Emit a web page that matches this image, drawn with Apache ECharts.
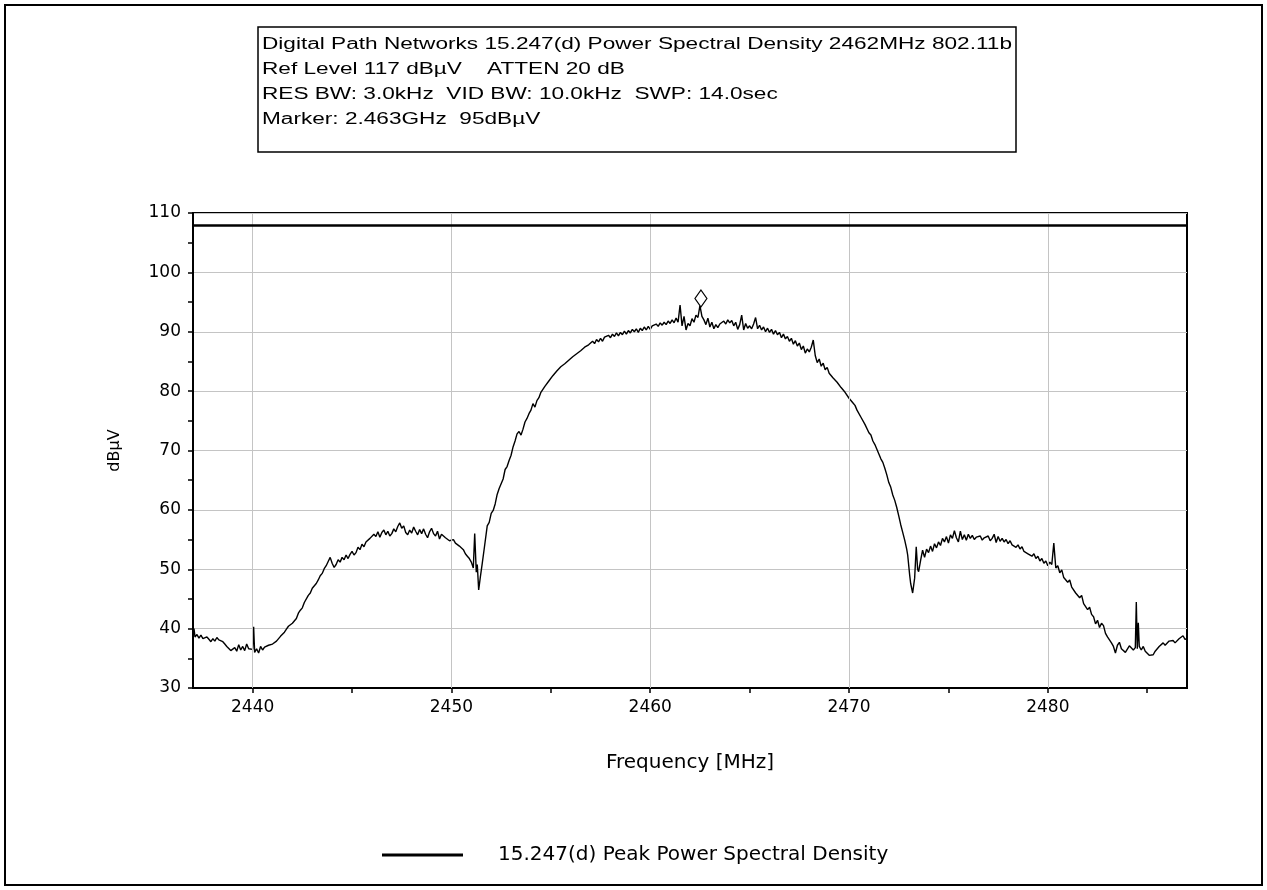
<!DOCTYPE html>
<html><head><meta charset="utf-8">
<script src="https://cdn.jsdelivr.net/npm/echarts@6/dist/echarts.min.js"></script>
<style>html,body{margin:0;padding:0;background:#fff}#c{width:1267px;height:890px}</style>
</head><body><div id="c"></div>
<script>
const titleLines = [
  'Digital Path Networks 15.247(d) Power Spectral Density 2462MHz 802.11b',
  'Ref Level 117 dB\u00b5V    ATTEN 20 dB',
  'RES BW: 3.0kHz  VID BW: 10.0kHz  SWP: 14.0sec',
  'Marker: 2.463GHz  95dB\u00b5V'
];
const seriesName = '15.247(d) Peak Power Spectral Density';
const xAxisName = 'Frequency [MHz]';
const yAxisName = 'dB\u00b5V';
const xTickLabels = [2440, 2450, 2460, 2470, 2480];
const xTickMarks = [2440, 2445, 2450, 2455, 2460, 2465, 2470, 2475, 2480, 2485];
const limitLevel = 108;
const markerFreq = 2462.55;
const markerLevel = 95.6;

// [frequency MHz, level dBuV]
const spectrumPoints = [
[2437.0,39.2],[2437.05,40.0],[2437.1,38.6],[2437.2,39.0],[2437.3,38.4],[2437.4,38.9],[2437.5,38.3],[2437.6,38.0],[2437.7,38.6],[2437.8,38.2],
[2437.9,37.8],[2438.0,38.3],[2438.1,37.9],[2438.2,38.5],[2438.3,38.1],[2438.4,38.4],[2438.5,37.8],[2438.6,37.4],[2438.7,37.0],[2438.8,36.8],
[2438.9,36.3],[2439.0,36.0],[2439.1,36.8],[2439.2,36.2],[2439.3,37.3],[2439.4,36.4],[2439.5,37.0],[2439.6,36.3],[2439.7,37.4],[2439.8,36.6],
[2439.9,36.9],[2440.0,36.5],[2440.05,40.3],[2440.1,36.0],[2440.2,36.6],[2440.3,35.9],[2440.4,37.0],[2440.5,36.4],[2440.6,36.9],[2440.7,36.6],
[2440.8,37.2],[2440.9,36.9],[2441.0,37.4],[2441.1,37.3],[2441.2,37.9],[2441.3,38.2],[2441.4,38.7],[2441.5,38.6],[2441.6,39.4],[2441.7,39.9],
[2441.8,40.4],[2441.9,40.2],[2442.0,40.9],[2442.1,41.2],[2442.2,41.7],[2442.3,42.6],[2442.4,43.1],[2442.5,43.5],[2442.6,44.4],[2442.7,44.7],
[2442.8,45.6],[2442.9,46.0],[2443.0,46.8],[2443.1,46.6],[2443.2,47.6],[2443.3,48.2],[2443.4,48.9],[2443.5,49.3],[2443.6,50.1],[2443.7,50.6],
[2443.8,51.3],[2443.9,52.0],[2444.0,51.0],[2444.1,50.3],[2444.2,50.8],[2444.3,51.6],[2444.4,51.2],[2444.5,52.0],[2444.6,51.6],[2444.7,52.4],
[2444.8,51.8],[2444.9,52.5],[2445.0,53.0],[2445.1,52.4],[2445.2,52.8],[2445.3,53.7],[2445.4,53.3],[2445.5,54.2],[2445.6,53.8],[2445.7,54.6],
[2445.8,54.4],[2445.9,55.2],[2446.0,55.0],[2446.1,55.9],[2446.2,55.5],[2446.3,56.3],[2446.4,55.4],[2446.5,56.2],[2446.6,56.6],[2446.7,55.8],
[2446.8,56.4],[2446.9,55.6],[2447.0,56.0],[2447.1,56.8],[2447.2,56.3],[2447.3,57.2],[2447.4,57.8],[2447.5,56.9],[2447.6,57.3],[2447.7,56.2],
[2447.8,55.8],[2447.9,56.6],[2448.0,56.1],[2448.1,57.1],[2448.2,56.4],[2448.3,55.8],[2448.4,56.7],[2448.5,56.0],[2448.6,56.8],[2448.7,55.9],
[2448.8,55.3],[2448.9,56.3],[2449.0,56.9],[2449.1,56.0],[2449.2,55.6],[2449.3,56.4],[2449.4,55.1],[2449.5,55.9],[2449.6,56.2],[2449.7,55.3],
[2449.8,55.6],[2449.9,54.8],[2450.0,54.6],[2450.1,55.0],[2450.2,54.4],[2450.3,54.7],[2450.4,53.9],[2450.5,53.6],[2450.6,53.3],[2450.7,52.6],
[2450.8,52.2],[2450.9,51.8],[2451.0,51.2],[2451.1,50.2],[2451.17,56.0],[2451.25,49.5],[2451.3,50.8],[2451.37,46.5],[2451.45,48.6],[2451.55,51.0],
[2451.65,53.5],[2451.8,57.3],[2451.9,57.9],[2452.0,59.4],[2452.1,59.9],[2452.2,61.0],[2452.3,62.6],[2452.4,63.6],[2452.5,63.9],[2452.6,65.2],
[2452.7,66.8],[2452.8,67.3],[2452.9,68.3],[2453.0,69.2],[2453.1,70.6],[2453.2,71.6],[2453.3,72.8],[2453.4,73.2],[2453.5,72.6],[2453.6,73.6],
[2453.7,74.8],[2453.8,75.4],[2453.9,76.2],[2454.0,76.8],[2454.1,77.9],[2454.2,77.3],[2454.3,78.4],[2454.4,78.9],[2454.5,79.8],[2454.6,80.0],
[2454.7,80.8],[2454.8,81.0],[2454.9,81.7],[2455.0,81.8],[2455.1,82.6],[2455.2,82.8],[2455.3,83.4],[2455.4,83.3],[2455.5,84.1],[2455.6,83.9],
[2455.7,84.6],[2455.8,84.5],[2455.9,85.2],[2456.0,85.1],[2456.1,85.8],[2456.2,85.6],[2456.3,86.3],[2456.4,86.1],[2456.5,86.8],[2456.6,86.6],
[2456.7,87.4],[2456.8,87.2],[2456.9,87.8],[2457.0,87.9],[2457.1,88.4],[2457.2,88.0],[2457.3,88.7],[2457.4,88.3],[2457.5,88.9],[2457.6,88.4],
[2457.7,89.1],[2457.8,88.8],[2457.9,89.4],[2458.0,89.0],[2458.1,89.6],[2458.2,89.2],[2458.3,89.8],[2458.4,89.3],[2458.5,89.9],[2458.6,89.5],
[2458.7,90.1],[2458.8,89.6],[2458.9,90.2],[2459.0,89.8],[2459.1,90.4],[2459.2,90.0],[2459.3,90.5],[2459.4,89.9],[2459.5,90.6],[2459.6,90.2],
[2459.7,90.8],[2459.8,90.3],[2459.9,90.9],[2460.0,90.4],[2460.1,91.0],[2460.2,90.7],[2460.3,91.3],[2460.4,90.9],[2460.5,91.5],[2460.6,91.1],
[2460.7,91.6],[2460.8,91.2],[2460.9,91.8],[2461.0,91.4],[2461.1,92.0],[2461.2,91.5],[2461.3,92.3],[2461.4,91.6],[2461.5,94.5],[2461.6,91.0],
[2461.7,92.6],[2461.8,90.3],[2461.9,91.4],[2462.0,91.0],[2462.1,92.2],[2462.2,91.6],[2462.3,92.8],[2462.4,92.4],[2462.5,94.4],[2462.6,92.6],
[2462.7,92.0],[2462.8,91.2],[2462.9,92.3],[2463.0,90.8],[2463.1,91.6],[2463.2,90.5],[2463.3,91.2],[2463.4,90.7],[2463.5,91.3],[2463.6,91.0],
[2463.7,91.8],[2463.8,91.3],[2463.9,92.0],[2464.0,91.5],[2464.1,91.9],[2464.2,91.0],[2464.3,91.6],[2464.4,90.4],[2464.5,91.2],[2464.6,92.8],
[2464.7,90.3],[2464.8,91.4],[2464.9,90.6],[2465.0,91.0],[2465.1,90.5],[2465.2,91.3],[2465.3,92.4],[2465.4,90.5],[2465.5,91.1],[2465.6,90.3],
[2465.7,90.8],[2465.8,90.0],[2465.9,90.6],[2466.0,89.9],[2466.1,90.4],[2466.2,89.6],[2466.3,90.2],[2466.4,89.5],[2466.5,89.9],[2466.6,89.0],
[2466.7,89.6],[2466.8,88.8],[2466.9,89.2],[2467.0,88.4],[2467.1,88.9],[2467.2,87.9],[2467.3,88.5],[2467.4,87.6],[2467.5,88.1],[2467.6,87.0],
[2467.7,87.6],[2467.8,86.4],[2467.9,87.1],[2468.0,86.6],[2468.1,87.4],[2468.2,88.6],[2468.3,86.0],[2468.4,84.8],[2468.5,85.4],[2468.6,84.2],
[2468.7,84.7],[2468.8,83.6],[2468.9,84.0],[2469.0,83.0],[2469.1,83.2],[2469.2,82.2],[2469.3,82.5],[2469.4,81.5],[2469.5,81.6],[2469.6,80.6],
[2469.7,80.7],[2469.8,79.8],[2469.9,79.6],[2470.0,78.8],[2470.1,78.9],[2470.2,78.0],[2470.3,77.6],[2470.4,76.8],[2470.5,76.5],[2470.6,75.6],
[2470.7,75.3],[2470.8,74.4],[2470.9,74.1],[2471.0,73.0],[2471.1,72.6],[2471.2,71.6],[2471.3,71.0],[2471.4,70.2],[2471.5,69.4],[2471.6,68.6],
[2471.7,68.0],[2471.8,67.0],[2471.9,65.9],[2472.0,64.6],[2472.1,63.8],[2472.2,62.5],[2472.3,61.6],[2472.4,60.4],[2472.5,59.0],[2472.6,57.5],
[2472.7,56.2],[2472.8,54.9],[2472.9,53.4],[2472.95,52.4],[2473.05,49.0],[2473.1,47.6],[2473.2,46.0],[2473.3,48.5],[2473.38,53.8],[2473.45,50.0],
[2473.5,49.6],[2473.6,51.5],[2473.7,53.2],[2473.8,52.0],[2473.9,53.4],[2474.0,52.8],[2474.1,53.9],[2474.2,53.0],[2474.3,54.3],[2474.4,53.6],
[2474.5,54.6],[2474.6,54.0],[2474.7,55.2],[2474.8,54.6],[2474.9,55.5],[2475.0,54.4],[2475.1,55.8],[2475.2,55.2],[2475.3,56.5],[2475.4,55.3],
[2475.5,54.6],[2475.6,56.4],[2475.7,55.0],[2475.8,55.8],[2475.9,54.9],[2476.0,55.9],[2476.1,55.2],[2476.2,55.7],[2476.3,55.0],[2476.4,55.4],
[2476.5,55.1],[2476.6,55.6],[2476.7,54.9],[2476.8,55.3],[2476.9,55.0],[2477.0,55.6],[2477.1,54.8],[2477.2,55.2],[2477.3,55.9],[2477.4,54.5],
[2477.5,55.5],[2477.6,54.7],[2477.7,55.2],[2477.8,54.6],[2477.9,55.0],[2478.0,54.3],[2478.1,54.8],[2478.2,54.1],[2478.3,54.4],[2478.4,53.7],
[2478.5,54.1],[2478.6,53.4],[2478.7,53.8],[2478.8,53.0],[2478.9,53.3],[2479.0,52.6],[2479.1,52.9],[2479.2,52.2],[2479.3,52.6],[2479.4,51.8],
[2479.5,52.2],[2479.6,51.4],[2479.7,51.8],[2479.8,51.0],[2479.9,51.4],[2480.0,50.6],[2480.1,51.2],[2480.2,50.8],[2480.3,54.4],[2480.4,50.2],
[2480.5,50.6],[2480.6,49.4],[2480.7,49.9],[2480.8,48.6],[2480.9,48.9],[2481.0,47.8],[2481.1,48.2],[2481.2,47.0],[2481.3,46.8],[2481.4,46.0],
[2481.5,46.3],[2481.6,45.2],[2481.7,45.6],[2481.8,44.2],[2481.9,44.5],[2482.0,43.2],[2482.1,43.6],[2482.2,42.4],[2482.3,42.0],[2482.4,40.8],
[2482.5,41.4],[2482.6,40.2],[2482.7,40.9],[2482.8,40.5],[2482.9,39.2],[2483.0,38.6],[2483.1,38.9],[2483.2,37.6],[2483.3,37.0],[2483.4,35.9],
[2483.5,37.2],[2483.6,37.7],[2483.7,36.6],[2483.8,36.9],[2483.9,36.0],[2484.0,36.2],[2484.1,37.1],[2484.2,37.3],[2484.3,36.4],[2484.4,36.8],
[2484.45,44.5],[2484.5,36.6],[2484.55,41.0],[2484.6,37.0],[2484.7,36.4],[2484.8,37.0],[2484.9,36.2],[2485.0,36.0],[2485.1,35.5],[2485.2,35.7],
[2485.3,35.6],[2485.4,36.2],[2485.5,36.5],[2485.6,37.0],[2485.7,36.8],[2485.8,37.6],[2485.9,37.2],[2486.0,37.4],[2486.1,37.9],[2486.2,37.6],
[2486.3,38.0],[2486.4,37.6],[2486.5,37.9],[2486.6,38.3],[2486.7,38.6],[2486.8,38.8],[2486.9,38.2],[2487.0,38.3]
];

const FONT = 'Arial, "Liberation Sans", sans-serif';
const WIDE = '"DejaVu Sans", sans-serif';

function measure(text, size, family) {
  const cv = document.createElement('canvas').getContext('2d');
  cv.font = size + 'px ' + family;
  return cv.measureText(text).width;
}
const titleSize = 16;
const titleScale = 750 / measure(titleLines[0], titleSize, '"Liberation Sans"');

const chart = echarts.init(document.getElementById('c'), null, {renderer: 'canvas'});

const titleGraphics = titleLines.map((t, i) => ({
  type: 'text', x: 262, y: 45 + i * 25, scaleX: titleScale, scaleY: 1,
  style: {text: t, font: titleSize + 'px ' + FONT, fill: '#000', textVerticalAlign: 'middle', textAlign: 'left'}
}));

chart.setOption({
  animation: false,
  backgroundColor: '#fff',
  grid: {left: 193, top: 213, width: 994, height: 475, show: true, borderColor: '#000', borderWidth: 2, backgroundColor: 'transparent'},
  graphic: [
    {type: 'rect', shape: {x: 5, y: 5, width: 1257, height: 880}, style: {fill: 'none', stroke: '#000', lineWidth: 2}},
    {type: 'rect', shape: {x: 258, y: 27, width: 758, height: 125}, style: {fill: '#fff', stroke: '#000', lineWidth: 1.5}},
    ...titleGraphics
  ],
  legend: {
    left: 377, top: 840, itemWidth: 81, itemHeight: 3, icon: 'rect',
    data: [seriesName],
    textStyle: {fontFamily: WIDE, fontSize: 20, color: '#000', padding: [0, 0, 0, 30]}
  },
  xAxis: {
    type: 'value', min: 2437, max: 2487,
    name: xAxisName, nameLocation: 'middle', nameGap: 65,
    nameTextStyle: {fontFamily: WIDE, fontSize: 20, color: '#000'},
    axisLine: {show: true, lineStyle: {color: '#000', width: 2}},
    axisTick: {show: true, customValues: xTickMarks, length: 5, lineStyle: {color: '#000', width: 1.5}},
    axisLabel: {customValues: xTickLabels, formatter: v => String(v), fontFamily: WIDE, fontSize: 17, color: '#000', margin: 11},
    splitLine: {show: false}
  },
  yAxis: {
    type: 'value', min: 30, max: 110, interval: 10,
    name: yAxisName, nameLocation: 'middle', nameGap: 70, nameRotate: 90,
    nameTextStyle: {fontFamily: WIDE, fontSize: 16, color: '#000'},
    axisLine: {show: true, lineStyle: {color: '#000', width: 2}},
    axisTick: {show: true, length: 5, lineStyle: {color: '#000', width: 1.5}},
    minorTick: {show: true, splitNumber: 2, length: 5, lineStyle: {color: '#000', width: 1.5}},
    axisLabel: {formatter: v => String(v), fontFamily: WIDE, fontSize: 17, color: '#000', margin: 12},
    splitLine: {show: true, lineStyle: {color: '#c4c4c4', width: 1}}
  },
  series: [{
    name: seriesName, type: 'line', data: spectrumPoints, showSymbol: false, symbol: 'none',
    lineStyle: {color: '#000', width: 1.4}, itemStyle: {color: '#000'},
    markLine: {
      silent: true, symbol: 'none', label: {show: false},
      lineStyle: {color: '#c4c4c4', width: 1, type: 'solid'},
      data: [
        ...xTickLabels.map(v => ({xAxis: v})),
        {yAxis: limitLevel, lineStyle: {color: '#000', width: 2.5, type: 'solid'}}
      ]
    },
    markPoint: {
      silent: true, symbol: 'diamond', symbolSize: [12, 17],
      itemStyle: {color: '#fff', borderColor: '#000', borderWidth: 1.2},
      label: {show: false},
      data: [{coord: [markerFreq, markerLevel]}]
    }
  }]
});
</script></body></html>
